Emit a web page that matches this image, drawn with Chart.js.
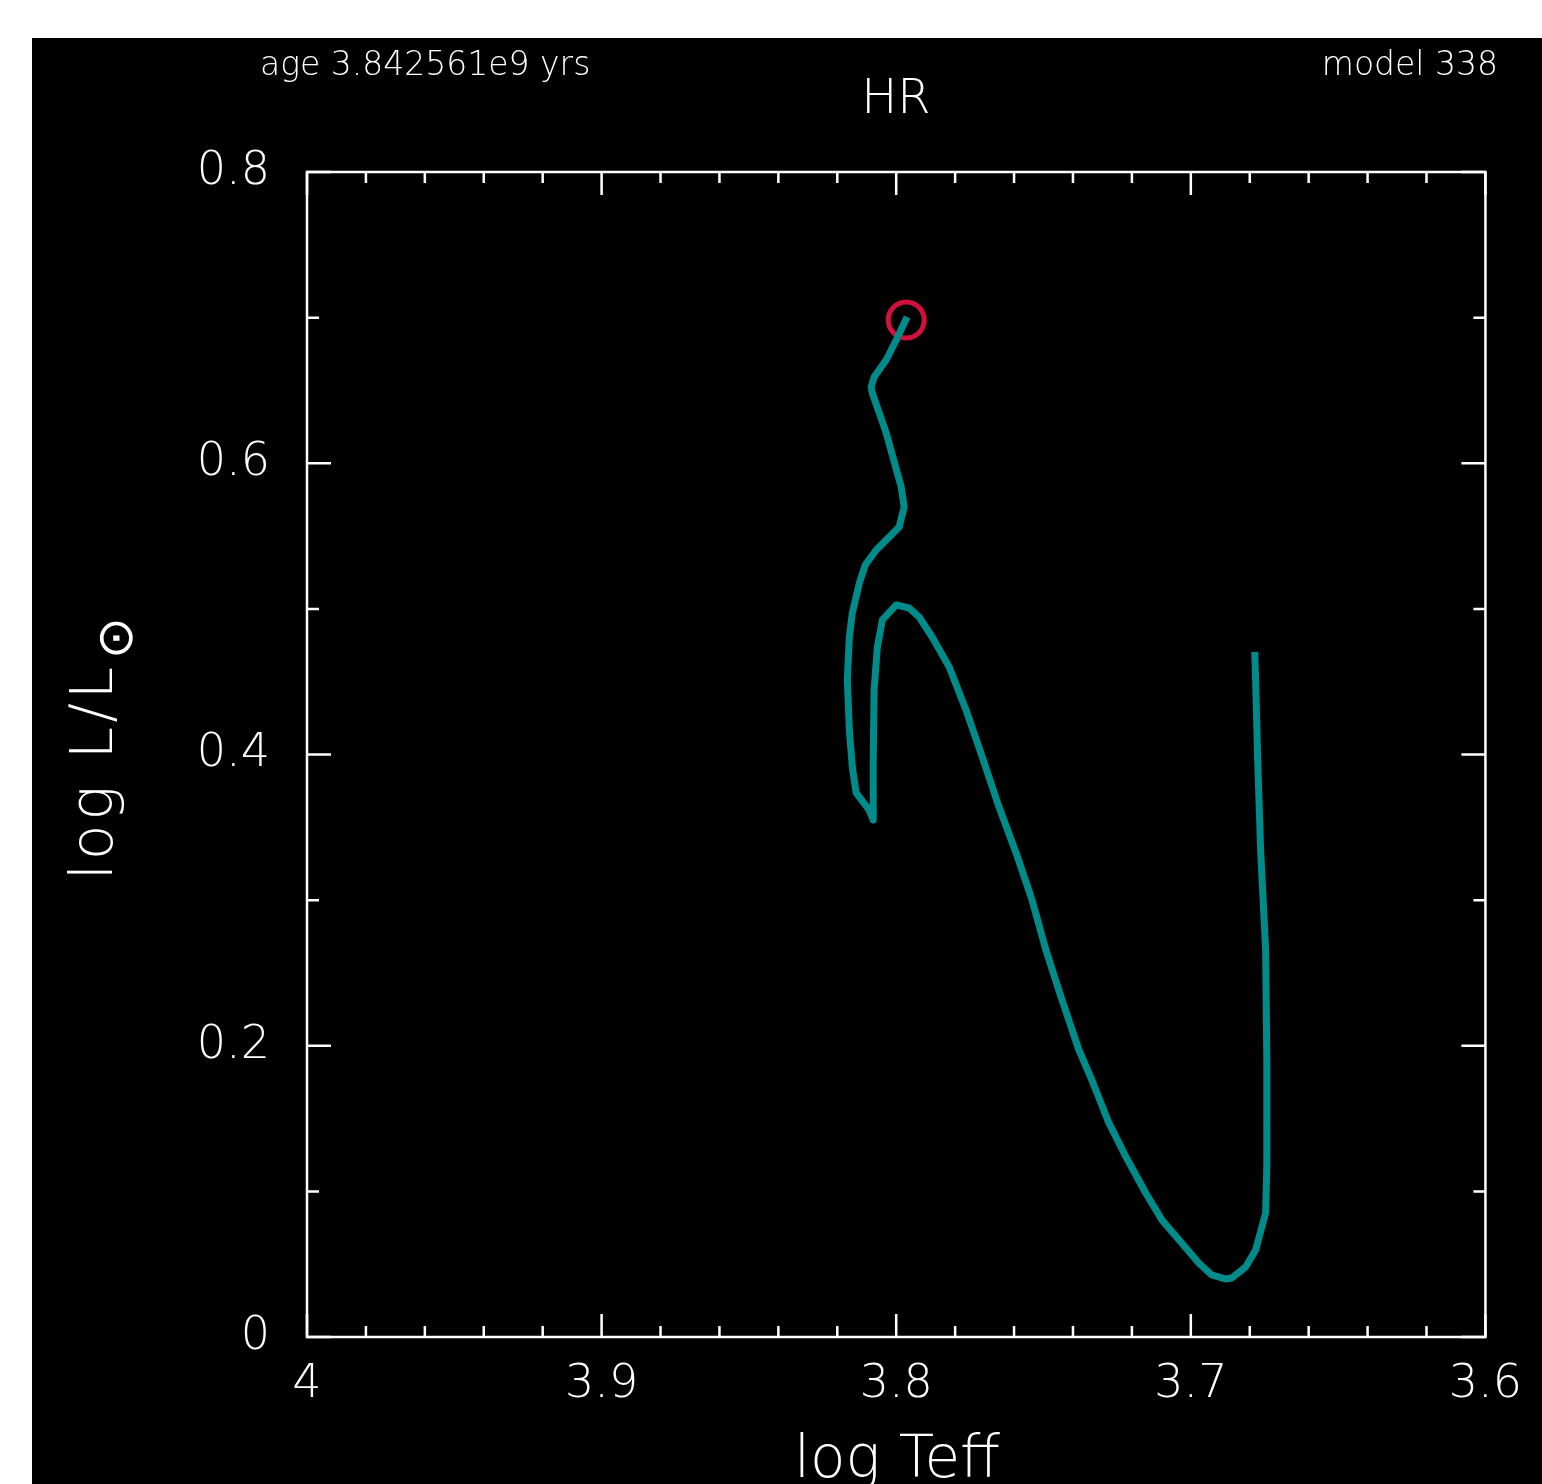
<!DOCTYPE html>
<html>
<head>
<meta charset="utf-8">
<title>HR</title>
<script src="https://cdn.jsdelivr.net/npm/chart.js@4.4.1/dist/chart.umd.min.js"></script>
<style>
  body { margin: 0; background: #fff; }
  #panel { position: absolute; left: 32px; top: 38px; width: 1510px; height: 1446px; background: #000; }
</style>
</head>
<body>
<div id="panel"><canvas id="hrPlot"></canvas></div>
<script>
const LINE_COLOR = "#008b8b";
const MODEL_COLOR = "#d2103c";
const FONT = "'DejaVu Sans', sans-serif";

// evolutionary track, in drawing order
const logTeff = [
    3.6783, 3.6780, 3.6773, 3.6763, 3.6746, 3.6742, 3.6742, 3.6746, 3.6780, 3.6814,
    3.6861, 3.6881, 3.6929, 3.6973, 3.7031, 3.7098, 3.7153, 3.7220, 3.7278, 3.7336,
    3.7380, 3.7437, 3.7492, 3.7539, 3.7593, 3.7651, 3.7708, 3.7763, 3.7820, 3.7878,
    3.7922, 3.7956, 3.8000, 3.8047, 3.8064, 3.8075, 3.8078, 3.8078, 3.8092, 3.8136,
    3.8149, 3.8159, 3.8166, 3.8159, 3.8149, 3.8125, 3.8105, 3.8068, 3.7990, 3.7973,
    3.7983, 3.8034, 3.8081, 3.8085, 3.8075, 3.8034, 3.8000, 3.7963
];
const logL = [
    0.4704, 0.4512, 0.3962, 0.3344, 0.2658, 0.1902, 0.1181, 0.0852, 0.0597, 0.0481,
    0.0405, 0.0398, 0.0426, 0.0508, 0.0645, 0.0803, 0.0989, 0.1236, 0.1470, 0.1765,
    0.1971, 0.2314, 0.2658, 0.3001, 0.3324, 0.3639, 0.3983, 0.4306, 0.4601, 0.4807,
    0.4944, 0.5006, 0.5027, 0.4924, 0.4738, 0.4443, 0.3962, 0.3550, 0.3619, 0.3736,
    0.3914, 0.4168, 0.4512, 0.4807, 0.4972, 0.5178, 0.5301, 0.5404, 0.5562, 0.5700,
    0.5837, 0.6208, 0.6482, 0.6524, 0.6592, 0.6709, 0.6846, 0.7004
];

// current model
const modelTeff = [3.7966];
const modelL = [0.6984];

const xTickValues = [4, 3.9, 3.8, 3.7, 3.6];
const xTickLabels = ["4", "3.9", "3.8", "3.7", "3.6"];
const yTickValues = [0, 0.2, 0.4, 0.6, 0.8];
const yTickLabels = ["0", "0.2", "0.4", "0.6", "0.8"];

const ageLabel = "age 3.842561e9 yrs";
const modelLabel = "model 338";

let track = logTeff.map((t, i) => ({ x: t, y: logL[i] }));
let current = modelTeff.map((t, i) => ({ x: t, y: modelL[i] }));

// frame with inward major/minor ticks on all four sides
const frameTicks = {
    id: "frameTicks",
    beforeDatasetsDraw(chart) {
        let ctx = chart.ctx;
        let area = chart.chartArea;
        let xs = chart.scales.x;
        let ys = chart.scales.y;
        ctx.save();
        ctx.strokeStyle = "#ffffff";
        ctx.lineWidth = 2.5;
        ctx.strokeRect(area.left, area.top, area.right - area.left, area.bottom - area.top);
        ctx.beginPath();
        for (let i = 0; i <= 20; i++) {
            let px = xs.getPixelForValue(3.6 + i * 0.02);
            let len = i % 5 === 0 ? 23 : 11;
            ctx.moveTo(px, area.bottom);
            ctx.lineTo(px, area.bottom - len);
            ctx.moveTo(px, area.top);
            ctx.lineTo(px, area.top + len);
        }
        for (let i = 0; i <= 8; i++) {
            let py = ys.getPixelForValue(i * 0.1);
            let len = i % 2 === 0 ? 24 : 12;
            ctx.moveTo(area.left, py);
            ctx.lineTo(area.left + len, py);
            ctx.moveTo(area.right, py);
            ctx.lineTo(area.right - len, py);
        }
        ctx.stroke();
        ctx.restore();
    }
};

const labels = {
    id: "labels",
    afterDraw(chart) {
        let ctx = chart.ctx;
        ctx.save();
        ctx.fillStyle = "#ffffff";
        ctx.textBaseline = "alphabetic";

        ctx.font = "200 33px " + FONT;
        ctx.textAlign = "left";
        ctx.fillText(ageLabel, 228, 37);
        ctx.textAlign = "right";
        ctx.fillText(modelLabel, 1466, 37);

        ctx.font = "200 48px " + FONT;
        ctx.textAlign = "center";
        ctx.fillText("HR", 864, 75);

        ctx.font = "200 58px " + FONT;
        ctx.fillText("log Teff", 865, 1439);

        // y title, rotated, with the solar subscript
        ctx.translate(80, 842);
        ctx.rotate(-Math.PI / 2);
        ctx.textAlign = "left";
        ctx.font = "200 58px " + FONT;
        ctx.letterSpacing = "4px";
        ctx.fillText("log L/L", 0, 0);
        ctx.letterSpacing = "0px";
        ctx.font = "200 50px " + FONT;
        ctx.textAlign = "center";
        ctx.textBaseline = "middle";
        ctx.fillText("\u2299", 242, 7);
        ctx.restore();
    }
};

const config = {
    type: "scatter",
    data: {
        datasets: [
            {
                data: track,
                showLine: true,
                borderColor: LINE_COLOR,
                borderWidth: 7,
                pointRadius: 0,
                borderJoinStyle: "round",
                borderCapStyle: "butt",
            },
            {
                data: current,
                pointRadius: 18,
                pointBorderWidth: 5,
                pointBorderColor: MODEL_COLOR,
                pointBackgroundColor: "rgba(0,0,0,0)",
            },
        ],
    },
    options: {
        responsive: true,
        maintainAspectRatio: false,
        animation: false,
        layout: { padding: { top: 134, right: 55, left: 0, bottom: 0 } },
        plugins: {
            legend: { display: false },
            tooltip: { enabled: false },
        },
        scales: {
            x: {
                type: "linear",
                min: 3.6,
                max: 4,
                reverse: true,
                grid: { display: false, drawTicks: false },
                border: { display: false },
                afterBuildTicks: (scale) => {
                    scale.ticks = xTickValues.map((v) => ({ value: v }));
                },
                afterFit: (scale) => {
                    scale.height = 147;
                },
                ticks: {
                    color: "#ffffff",
                    padding: 20,
                    maxRotation: 0,
                    font: { family: FONT, size: 46, weight: "200" },
                    callback: (v) => xTickLabels[xTickValues.indexOf(v)],
                },
            },
            y: {
                type: "linear",
                min: 0,
                max: 0.8,
                grid: { display: false, drawTicks: false },
                border: { display: false },
                afterBuildTicks: (scale) => {
                    scale.ticks = yTickValues.map((v) => ({ value: v }));
                },
                afterFit: (scale) => {
                    scale.width = 275;
                },
                ticks: {
                    color: "#ffffff",
                    padding: 37,
                    font: { family: FONT, size: 46, weight: "200" },
                    callback: (v) => yTickLabels[yTickValues.indexOf(v)],
                },
            },
        },
    },
    plugins: [frameTicks, labels],
};

let hrPlot = document.getElementById("hrPlot");
let chart = new Chart(hrPlot.getContext("2d"), config);
</script>
</body>
</html>
